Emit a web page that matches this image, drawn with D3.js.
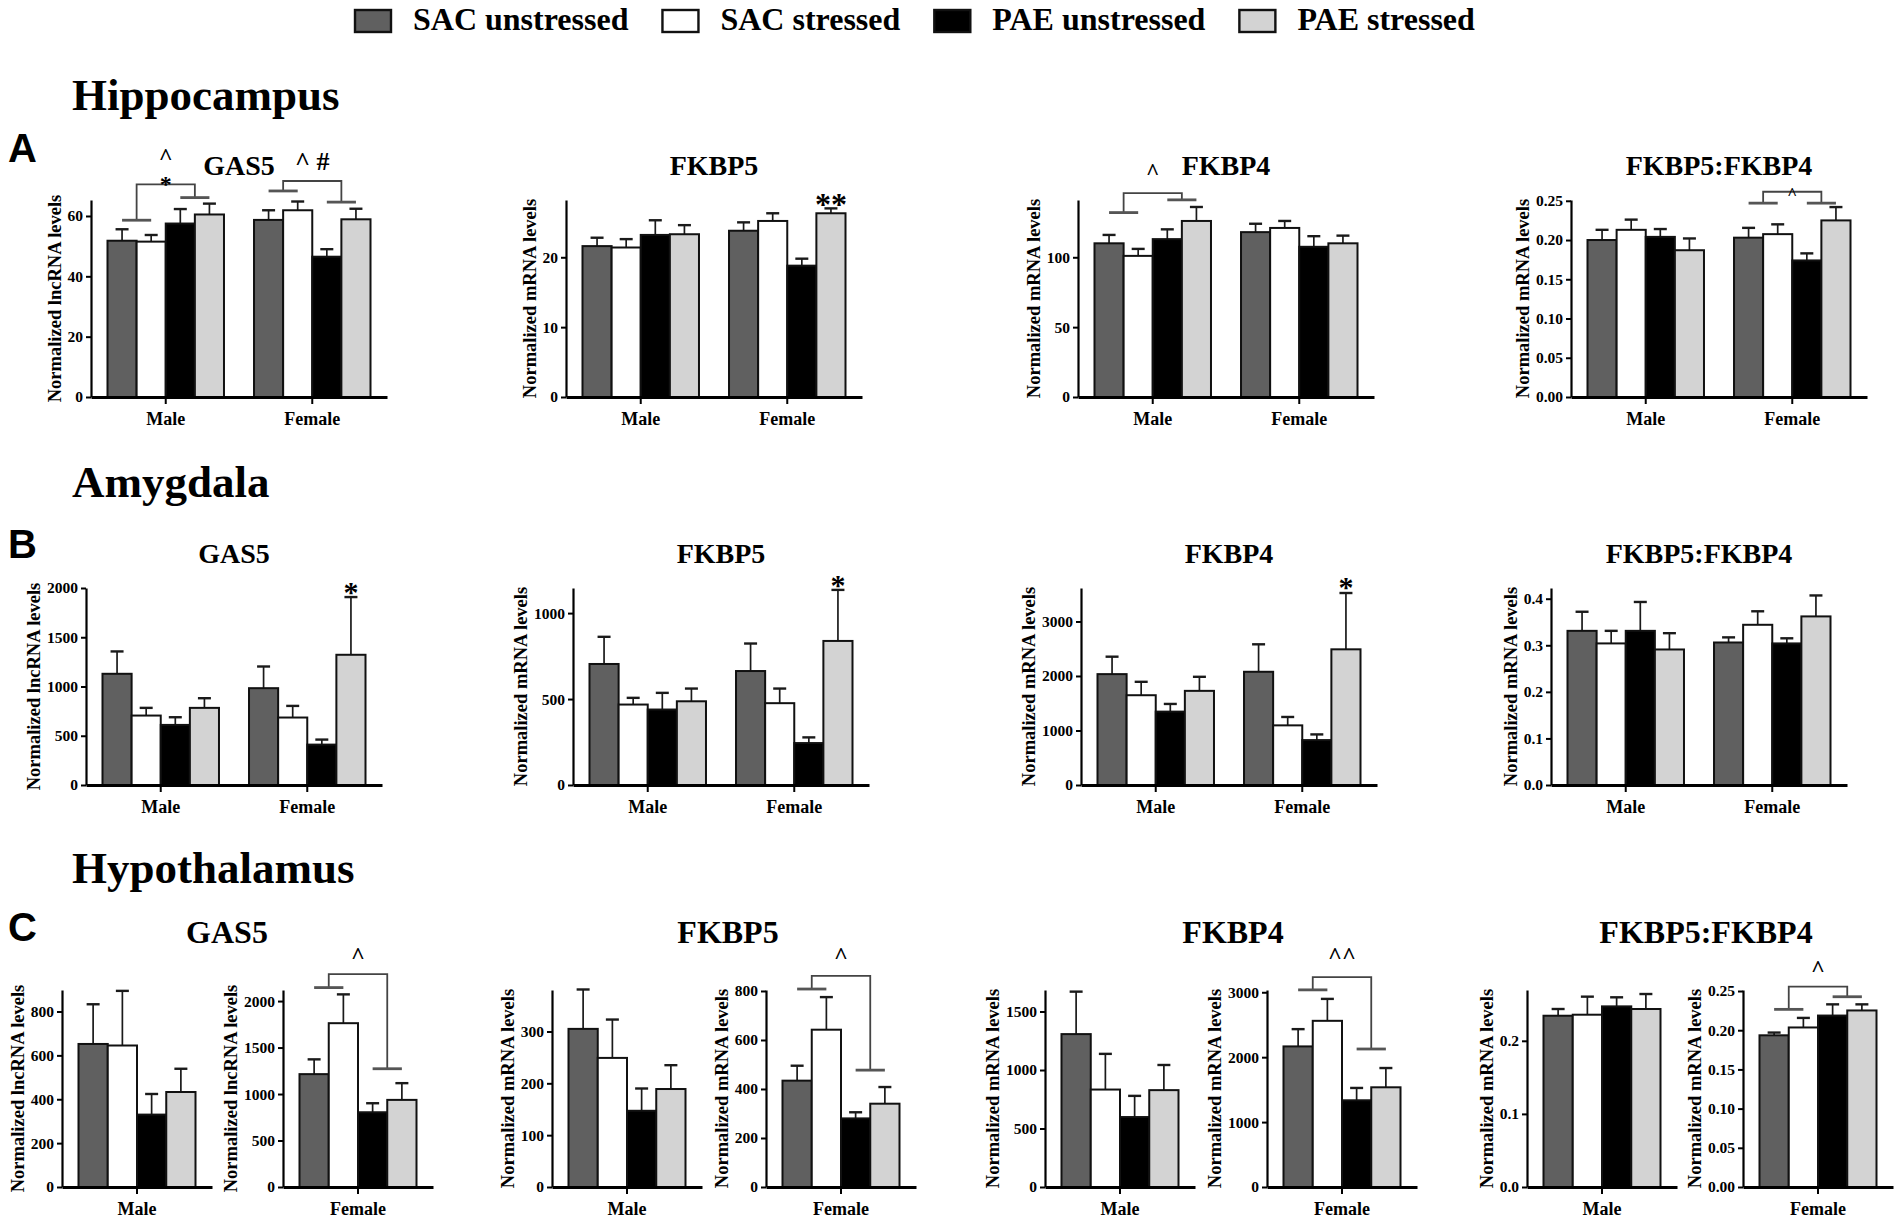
<!DOCTYPE html>
<html>
<head>
<meta charset="utf-8">
<script src="https://cdn.jsdelivr.net/npm/d3@7"></script>
<style>
  html, body { margin: 0; padding: 0; background: #fff; }
  svg { display: block; }
</style>
</head>
<body>
<svg id="fig" width="1902" height="1223"></svg>
<script>
// ---- data (mean and SEM, order: Male, Female) ----
const series = ['SAC unstressed', 'SAC stressed', 'PAE unstressed', 'PAE stressed']
const sexes = ['Male', 'Female']
const genes = ['GAS5', 'FKBP5', 'FKBP4', 'FKBP5:FKBP4']

// Hippocampus
const hipGAS5Mean = [[51.8, 51.5, 57.5, 60.5], [58.7, 61.9, 46.5, 58.9]]
const hipGAS5Sem = [[3.8, 2.2, 4.8, 3.6], [3.2, 2.9, 2.5, 3.5]]
const hipFKBP5Mean = [[21.6, 21.4, 23.2, 23.3], [23.8, 25.2, 18.8, 26.3]]
const hipFKBP5Sem = [[1.2, 1.2, 2.1, 1.3], [1.2, 1.1, 1.0, 0.7]]
const hipFKBP4Mean = [[110, 101, 113, 126], [118, 121, 107.5, 110]]
const hipFKBP4Sem = [[6, 5, 7, 10], [6, 5, 7.6, 5.5]]
const hipRatioMean = [[0.200, 0.213, 0.204, 0.187], [0.203, 0.2075, 0.174, 0.225]]
const hipRatioSem = [[0.013, 0.013, 0.010, 0.015], [0.0125, 0.0125, 0.009, 0.017]]

// Amygdala
const amyGAS5Mean = [[1129, 705, 610, 783], [983, 685, 410, 1322]]
const amyGAS5Sem = [[227, 78, 78, 98], [220, 118, 51, 586]]
const amyFKBP5Mean = [[704, 468, 439, 487], [663, 476, 244, 838]]
const amyFKBP5Sem = [[158, 39, 97, 74], [160, 85, 33, 297]]
const amyFKBP4Mean = [[2034, 1647, 1346, 1727], [2077, 1094, 824, 2489]]
const amyFKBP4Sem = [[320, 246, 141, 258], [504, 154, 104, 1033]]
const amyRatioMean = [[0.331, 0.304, 0.331, 0.291], [0.306, 0.344, 0.304, 0.362]]
const amyRatioSem = [[0.041, 0.027, 0.062, 0.035], [0.011, 0.029, 0.011, 0.045]]

// Hypothalamus (separate Male / Female plots)
const hypGAS5Mean = [[652, 645, 330, 433], [1214, 1762, 804, 937]]
const hypGAS5Sem = [[181, 249, 94, 106], [159, 310, 97, 180]]
const hypFKBP5Mean = [[305, 249, 147, 189], [434, 642, 280, 340]]
const hypFKBP5Sem = [[76, 74, 43, 46], [61, 133, 25, 68]]
const hypFKBP4Mean = [[1307, 833, 598, 828], [2166, 2560, 1336, 1536]]
const hypFKBP4Sem = [[363, 305, 181, 215], [266, 338, 190, 297]]
const hypRatioMean = [[0.2343, 0.2357, 0.2471, 0.2435], [0.1935, 0.2035, 0.2187, 0.2252]]
const hypRatioSem = [[0.0092, 0.0247, 0.0124, 0.0205], [0.0035, 0.0122, 0.0143, 0.0078]]

// y ticks and axis tops
const hipTicks = [[0, 20, 40, 60], [0, 10, 20], [0, 50, 100], [0, 0.05, 0.1, 0.15, 0.2, 0.25]]
const hipMax = [65.3, 28.2, 141, 0.251]
const amyTicks = [[0, 500, 1000, 1500, 2000], [0, 500, 1000], [0, 1000, 2000, 3000], [0, 0.1, 0.2, 0.3, 0.4]]
const amyMax = [2000, 1146, 3614, 0.423]
const hypTicks = [
  [[0, 200, 400, 600, 800], [0, 500, 1000, 1500, 2000]],
  [[0, 100, 200, 300], [0, 200, 400, 600, 800]],
  [[0, 500, 1000, 1500], [0, 1000, 2000, 3000]],
  [[0, 0.1, 0.2], [0, 0.05, 0.1, 0.15, 0.2, 0.25]]
]
const hypMax = [[898, 2119], [380, 804], [1684, 3035], [0.2695, 0.2513]]

// significance brackets: gene, sex, left dash, bracket top, right dash (y units)
const hipBrackets = [
  ['GAS5', 'Male', 58.6, 70.5, 66.1],
  ['GAS5', 'Female', 68.3, 71.6, 64.6],
  ['FKBP4', 'Male', 132, 145.9, 141.1],
  ['FKBP5:FKBP4', 'Female', 0.247, 0.2615, 0.247]
]
const hypBrackets = [
  ['GAS5', 'Female', 2145, 2289, 1272],
  ['FKBP5', 'Female', 808, 862, 477],
  ['FKBP4', 'Female', 3037, 3232, 2126],
  ['FKBP5:FKBP4', 'Female', 0.2266, 0.2557, 0.2427]
]
// significance symbols: gene, sex, bar (-1 = group centre), text, y value of glyph centre
const hipMarks = [
  ['GAS5', 'Male', -1, '^', 80.9],
  ['GAS5', 'Male', -1, '*', 71.9],
  ['GAS5', 'Female', -1, '^ #', 78.2],
  ['FKBP5', 'Female', 3, '**', 28.2],
  ['FKBP4', 'Male', -1, '^', 163.7],
  ['FKBP5:FKBP4', 'Female', -1, '^', 0.2628]
]
const amyMarks = [
  ['GAS5', 'Female', 3, '*', 2004],
  ['FKBP5', 'Female', 3, '*', 1189],
  ['FKBP4', 'Female', 3, '*', 3706]
]
const hypMarks = [
  ['GAS5', 'Female', -1, '^', 2537],
  ['FKBP5', 'Female', -1, '^', 962],
  ['FKBP4', 'Female', -1, '^^', 3625],
  ['FKBP5:FKBP4', 'Female', -1, '^', 0.284]
]

// ---- style and layout ----
const SERIF = '"Liberation Serif", "Times New Roman", Times, serif'
const SANS = '"Liberation Sans", Arial, Helvetica, sans-serif'
const fills = ['#606060', '#ffffff', '#000000', '#d3d3d3']

const svg = d3.select('#fig')
svg.append('rect').attr('width', 1902).attr('height', 1223).attr('fill', '#fff')
const root = svg.append('g').attr('font-family', SERIF).attr('font-weight', 'bold')

function fmtFor(ticks) {
  const step = ticks[1] - ticks[0]
  return step < 0.099 ? d3.format('.2f') : step < 1 ? d3.format('.1f') : d3.format('d')
}

function markSize(region, gene, txt) {
  if (txt === '**') return 32
  if (region === 'Amygdala') return 30
  if (region === 'Hypothalamus') return 24
  if (gene === 'FKBP5:FKBP4') return 17
  if (gene === 'FKBP4') return 23
  return txt.includes('#') ? 26 : 24
}

function drawChart(g, c) {
  const two = c.groups.length === 2
  const x = d3.scaleBand().domain(c.groups).range([c.x0, c.x0 + c.w])
    .paddingInner(two ? 0.205 : 0).paddingOuter(two ? 0.1126 : 0.141)
  const xs = d3.scaleBand().domain(d3.range(series.length)).range([0, x.bandwidth()])
  const bw = xs.bandwidth()
  const y = d3.scaleLinear().domain([0, c.yMax]).range([c.base, c.top])

  const cells = c.groups.flatMap((sex, gi) =>
    series.map((s, si) => ({ sex, si, m: c.mean[gi][si], e: c.sem[gi][si] })))
  const cx = d => x(d.sex) + xs(d.si) + bw / 2

  // error bars (drawn first so the stem tucks under the bar edge)
  const err = g.append('g').attr('stroke', '#1a1a1a')
  err.selectAll('line.stem').data(cells).join('line').attr('class', 'stem')
    .attr('x1', cx).attr('x2', cx)
    .attr('y1', d => y(d.m)).attr('y2', d => y(d.m + d.e))
    .attr('stroke-width', 1.7)
  err.selectAll('line.cap').data(cells).join('line').attr('class', 'cap')
    .attr('x1', d => cx(d) - 6.5).attr('x2', d => cx(d) + 6.5)
    .attr('y1', d => y(d.m + d.e)).attr('y2', d => y(d.m + d.e))
    .attr('stroke-width', 2.4)

  g.append('g').selectAll('rect').data(cells).join('rect')
    .attr('x', d => x(d.sex) + xs(d.si))
    .attr('y', d => y(d.m))
    .attr('width', bw)
    .attr('height', d => y(0) - y(d.m))
    .attr('fill', d => fills[d.si])
    .attr('stroke', '#111')
    .attr('stroke-width', 2)

  // axes
  const ya = g.append('g').attr('transform', `translate(${c.x0},0)`)
    .call(d3.axisLeft(y).tickValues(c.ticks).tickFormat(fmtFor(c.ticks)).tickSize(5).tickSizeOuter(0).tickPadding(3))
  ya.attr('font-family', SERIF).attr('font-size', 15.5).attr('font-weight', 'bold')
  ya.select('.domain').attr('stroke-width', 2.2)
  ya.selectAll('.tick line').attr('stroke-width', 2)

  const xa = g.append('g').attr('transform', `translate(0,${c.base})`)
    .call(d3.axisBottom(x).tickSize(7).tickSizeOuter(0))
  xa.attr('font-family', SERIF).attr('font-size', 18).attr('font-weight', 'bold')
  xa.select('.domain').attr('stroke-width', 3)
  xa.selectAll('.tick line').attr('stroke-width', 2)
  xa.selectAll('.tick text').attr('y', 27.5).attr('dy', null)

  const bb = ya.node().getBBox()
  g.append('text')
    .attr('transform', `translate(${c.x0 + bb.x - 7},${(c.top + c.base) / 2}) rotate(-90)`)
    .attr('text-anchor', 'middle')
    .attr('font-size', 18.5)
    .text(c.yLabel)

  // significance brackets
  c.brackets.forEach(([sex, yl, yt, yr]) => {
    const xl = x(sex) + bw
    const xr = x(sex) + 3 * bw
    g.append('path')
      .attr('d', `M${xl},${y(yl)}V${y(yt)}H${xr}V${y(yr)}`)
      .attr('fill', 'none').attr('stroke', '#444').attr('stroke-width', 1.8)
    for (const [px, v] of [[xl, yl], [xr, yr]]) {
      g.append('line')
        .attr('x1', px - bw / 2).attr('x2', px + bw / 2)
        .attr('y1', y(v)).attr('y2', y(v))
        .attr('stroke', '#555').attr('stroke-width', 2.8)
    }
  })

  c.marks.forEach(([sex, bar, txt, v]) => {
    const mx = bar < 0 ? x(sex) + x.bandwidth() / 2 : x(sex) + xs(bar) + bw / 2
    g.append('text')
      .attr('x', mx).attr('y', y(v))
      .attr('dy', txt.includes('#') ? '0.34em' : '0.48em')
      .attr('text-anchor', 'middle')
      .attr('font-size', c.markSize(txt))
      .text(txt)
  })
}

// ---- legend ----
let lx = 355
series.forEach((s, i) => {
  root.append('rect').attr('x', lx).attr('y', 10).attr('width', 36).attr('height', 22)
    .attr('fill', fills[i]).attr('stroke', '#111').attr('stroke-width', 2.4)
  const t = root.append('text').attr('x', lx + 58).attr('y', 30).attr('font-size', 32).text(s)
  lx += 58 + t.node().getComputedTextLength() + 34
})

const yLabel = gene => gene === 'GAS5' ? 'Normalized lncRNA levels' : 'Normalized mRNA levels'

// ---- rows A and B: Male and Female groups share one plot ----
const twoGroupRows = [
  {
    region: 'Hippocampus', letter: 'A', headY: 110, letterY: 162, titleY: 175, top: 200, base: 397,
    x0: [91, 566, 1078, 1571],
    mean: [hipGAS5Mean, hipFKBP5Mean, hipFKBP4Mean, hipRatioMean],
    sem: [hipGAS5Sem, hipFKBP5Sem, hipFKBP4Sem, hipRatioSem],
    ticks: hipTicks, max: hipMax, brackets: hipBrackets, marks: hipMarks
  },
  {
    region: 'Amygdala', letter: 'B', headY: 497, letterY: 558, titleY: 563, top: 588, base: 785,
    x0: [86, 573, 1081, 1551],
    mean: [amyGAS5Mean, amyFKBP5Mean, amyFKBP4Mean, amyRatioMean],
    sem: [amyGAS5Sem, amyFKBP5Sem, amyFKBP4Sem, amyRatioSem],
    ticks: amyTicks, max: amyMax, brackets: [], marks: amyMarks
  }
]

function rowHeader(region, letter, headY, letterY) {
  root.append('text').attr('x', 72).attr('y', headY).attr('font-size', 45).text(region)
  root.append('text').attr('x', 8).attr('y', letterY)
    .attr('font-family', SANS).attr('font-size', 40).text(letter)
}

twoGroupRows.forEach(row => {
  rowHeader(row.region, row.letter, row.headY, row.letterY)
  genes.forEach((gene, i) => {
    const g = root.append('g')
    const w = 296
    g.append('text').attr('x', row.x0[i] + w / 2).attr('y', row.titleY)
      .attr('text-anchor', 'middle').attr('font-size', 28).text(gene)
    drawChart(g, {
      x0: row.x0[i], w, top: row.top, base: row.base,
      groups: sexes, mean: row.mean[i], sem: row.sem[i],
      yMax: row.max[i], ticks: row.ticks[i], yLabel: yLabel(gene),
      brackets: row.brackets.filter(b => b[0] === gene).map(b => b.slice(1)),
      marks: row.marks.filter(m => m[0] === gene).map(m => m.slice(1)),
      markSize: txt => markSize(row.region, gene, txt)
    })
  })
})

// ---- row C: separate Male and Female plots ----
const hypRow = {
  region: 'Hypothalamus', letter: 'C', headY: 883, letterY: 941, titleY: 943, top: 990, base: 1187,
  x0: [[62, 283], [552, 766], [1045, 1267], [1527, 1743]],
  titleX: [227, 728, 1233, 1706],
  mean: [hypGAS5Mean, hypFKBP5Mean, hypFKBP4Mean, hypRatioMean],
  sem: [hypGAS5Sem, hypFKBP5Sem, hypFKBP4Sem, hypRatioSem]
}
rowHeader(hypRow.region, hypRow.letter, hypRow.headY, hypRow.letterY)
genes.forEach((gene, i) => {
  root.append('text').attr('x', hypRow.titleX[i]).attr('y', hypRow.titleY)
    .attr('text-anchor', 'middle').attr('font-size', 32).text(gene)
  sexes.forEach((sex, si) => {
    drawChart(root.append('g'), {
      x0: hypRow.x0[i][si], w: 150, top: hypRow.top, base: hypRow.base,
      groups: [sex], mean: [hypRow.mean[i][si]], sem: [hypRow.sem[i][si]],
      yMax: hypMax[i][si], ticks: hypTicks[i][si], yLabel: yLabel(gene),
      brackets: hypBrackets.filter(b => b[0] === gene && b[1] === sex).map(b => b.slice(1)),
      marks: hypMarks.filter(m => m[0] === gene && m[1] === sex).map(m => m.slice(1)),
      markSize: txt => markSize(hypRow.region, gene, txt)
    })
  })
})
</script>
</body>
</html>
